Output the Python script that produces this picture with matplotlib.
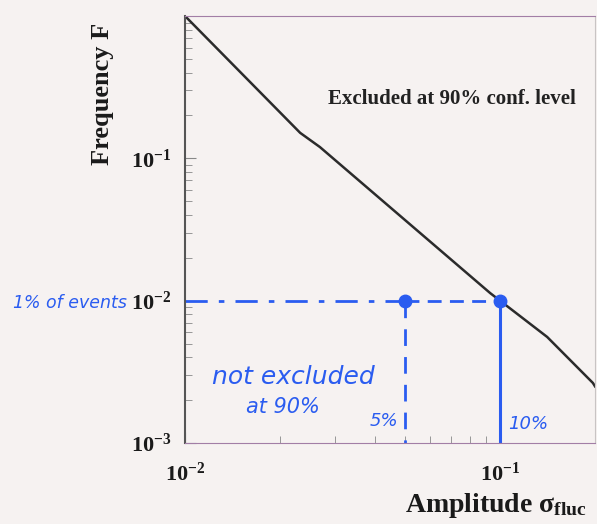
import numpy as np
import matplotlib
matplotlib.use("Agg")
import matplotlib.pyplot as plt
from matplotlib.ticker import LogLocator, FixedLocator, FuncFormatter

plt.rcParams['font.family'] = ['Liberation Serif', 'DejaVu Serif']
plt.rcParams['font.weight'] = 'bold'
plt.rcParams['mathtext.fontset'] = 'custom'
plt.rcParams['mathtext.rm'] = 'Liberation Serif:bold'
plt.rcParams['mathtext.it'] = 'Liberation Serif:bold:italic'
plt.rcParams['mathtext.bf'] = 'Liberation Serif:bold'

# exclusion limit: frequency vs fluctuation amplitude
amp = [0.010, 0.0232, 0.0268, 0.093, 0.141, 0.197, 0.20]
freq = [1.0, 0.151, 0.120, 0.0113, 0.00556, 0.00264, 0.0025]

# hand-marked points at 1% of events
mark_amp = [0.05, 0.1]
mark_labels = ["5%", "10%"]
mark_freq = 0.01

bg = '#f6f2f1'
blue = '#2a5cf0'

fig = plt.figure(figsize=(5.97, 5.24), dpi=100, facecolor=bg)
ax = fig.add_axes([185/597, 81/524, 410/597, 427/524], facecolor=bg)

ax.plot(amp, freq, color='#2b2b2b', lw=1.8)

ax.set_xscale('log')
ax.set_yscale('log')
ax.set_xlim(0.01, 0.2)
ax.set_ylim(1e-3, 1)

ax.yaxis.set_major_locator(FixedLocator([1e-3, 1e-2, 1e-1]))
ax.xaxis.set_major_locator(FixedLocator([1e-2, 1e-1]))
ax.xaxis.set_minor_locator(LogLocator(base=10, subs=np.arange(2, 10)))
ax.yaxis.set_minor_locator(LogLocator(base=10, subs=np.arange(2, 10)))
fmt = FuncFormatter(lambda v, p: r'$\mathdefault{10^{%d}}$' % int(round(np.log10(v))))
ax.xaxis.set_major_formatter(fmt)
ax.yaxis.set_major_formatter(fmt)
ax.tick_params(which='both', direction='in', colors='#888888', labelcolor='#1a1a1a',
               labelsize=16, top=False, right=False)
ax.tick_params(which='major', length=8, width=0.8)
ax.tick_params(which='minor', length=5, width=0.6)
ax.tick_params(axis='y', pad=10)
ax.tick_params(axis='x', pad=14)

ax.spines['left'].set_color('#555555')
ax.spines['left'].set_linewidth(1.5)
ax.spines['top'].set_color('#a27ea6')
ax.spines['bottom'].set_color('#a27ea6')
ax.spines['right'].set_color('#c8c4c4')

ax.text(0.652, 0.805, "Excluded at 90% conf. level", transform=ax.transAxes,
        ha='center', va='center', fontsize=15, fontweight='bold', color='#222222')

# blue hand annotations
ax.plot([0.01, mark_amp[0]], [mark_freq, mark_freq], color=blue, lw=2,
        ls=(0, (8, 4, 2, 4)))
ax.plot([mark_amp[0], mark_amp[1]], [mark_freq, mark_freq], color=blue, lw=2,
        ls=(0, (5, 3)))
ax.plot([mark_amp[0], mark_amp[0]], [mark_freq, 1e-3], color=blue, lw=2,
        ls=(0, (6, 4)))
ax.plot([mark_amp[1], mark_amp[1]], [mark_freq, 1e-3], color=blue, lw=2.2)
ax.plot(mark_amp, [mark_freq] * 2, 'o', color=blue, ms=9)

hand = dict(color=blue, family=['DejaVu Sans'], style='italic', fontweight='normal')
ax.text(mark_amp[0] * 0.95, 0.00142, mark_labels[0], ha='right', va='center',
        fontsize=13, **hand)
ax.text(mark_amp[1] * 1.06, 0.00135, mark_labels[1], ha='left', va='center',
        fontsize=13, **hand)
ax.text(0.022, 0.0029, "not excluded", ha='center', va='center', fontsize=18, **hand)
ax.text(0.0205, 0.0018, "at 90%", ha='center', va='center', fontsize=15, **hand)
fig.text(13/597, 1 - 303/524, "1% of events", ha='left', va='center',
         fontsize=12.5, **hand)

fig.text(103/597, 1 - 94/524, "Frequency F", rotation=90, ha='center', va='center',
         fontsize=19, fontweight='bold', color='#1a1a1a')
fig.text(405/597, 1 - 505/524, "Amplitude σ$_{\\mathrm{fluc}}$", ha='left',
         va='center', fontsize=20, fontweight='bold', color='#1a1a1a')

fig.savefig('out.png', dpi=100, facecolor=bg)
